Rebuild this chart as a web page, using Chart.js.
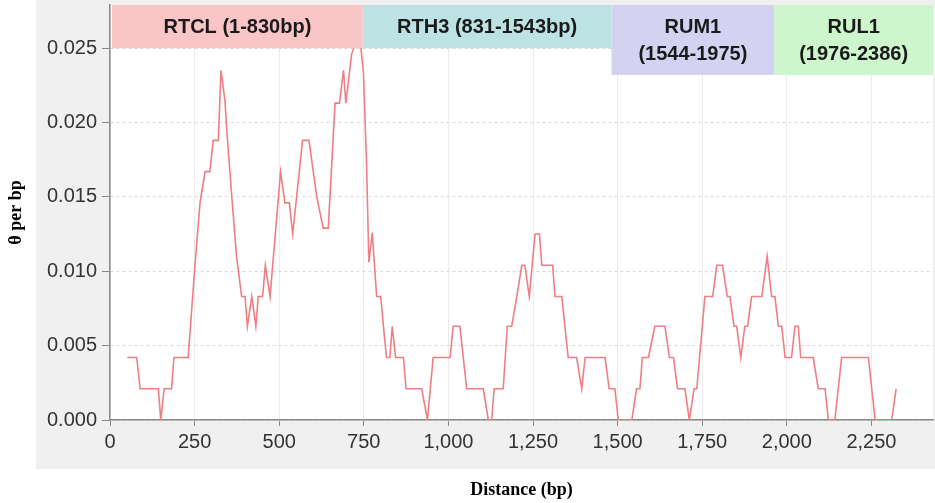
<!DOCTYPE html>
<html>
<head>
<meta charset="utf-8">
<script src="https://cdn.jsdelivr.net/npm/chart.js@4"></script>
<style>
  body { margin: 0; background: #fff; }
</style>
</head>
<body>
<canvas id="myChart" width="935" height="503"></canvas>
<script>
// sliding window position (bp) and nucleotide diversity
const positions = [51, 79, 89, 143, 150, 160, 182, 189, 231, 251, 266, 281, 295, 305, 320, 328, 340, 345, 360, 374,
  389, 399, 406, 419, 431, 438, 451, 459, 473, 504, 517, 530, 540, 569, 588, 611, 630, 645, 665, 678,
  690, 697, 714, 737, 749, 758, 765, 775, 788, 800, 808, 817, 827, 834, 844, 867, 875, 921, 938, 955,
  1005, 1014, 1034, 1054, 1103, 1118, 1128, 1135, 1162, 1174, 1187, 1202, 1217, 1226, 1239, 1256, 1269, 1276, 1308, 1315,
  1335, 1354, 1379, 1394, 1404, 1463, 1475, 1492, 1502, 1542, 1556, 1566, 1573, 1591, 1610, 1640, 1653, 1665, 1677, 1699,
  1712, 1726, 1734, 1758, 1781, 1793, 1810, 1824, 1832, 1844, 1852, 1864, 1876, 1884, 1896, 1926, 1942, 1955, 1965, 1975,
  1985, 1995, 2014, 2024, 2034, 2041, 2078, 2093, 2113, 2123, 2142, 2162, 2241, 2261, 2310, 2323];
const theta = [0.0042, 0.0042, 0.0021, 0.0021, 0, 0.0021, 0.0021, 0.0042, 0.0042, 0.0104, 0.0146, 0.0167, 0.0167, 0.0188, 0.0188, 0.0235, 0.0214, 0.0195, 0.0150, 0.0110,
  0.0083, 0.0083, 0.0063, 0.0083, 0.0063, 0.0083, 0.0083, 0.0104, 0.0083, 0.0167, 0.0146, 0.0146, 0.0125, 0.0188, 0.0188, 0.0150, 0.0129, 0.0129, 0.0213, 0.0213,
  0.0235, 0.0213, 0.0246, 0.0260, 0.0233, 0.0173, 0.0106, 0.0126, 0.0083, 0.0083, 0.0063, 0.0042, 0.0042, 0.0063, 0.0042, 0.0042, 0.0021, 0.0021, 0, 0.0042,
  0.0042, 0.0063, 0.0063, 0.0021, 0.0021, 0, 0, 0.0021, 0.0021, 0.0063, 0.0063, 0.0083, 0.0104, 0.0104, 0.0083, 0.0125, 0.0125, 0.0104, 0.0104, 0.0083,
  0.0083, 0.0042, 0.0042, 0.0021, 0.0042, 0.0042, 0.0021, 0.0021, 0, 0, 0.0021, 0.0021, 0.0042, 0.0042, 0.0063, 0.0063, 0.0042, 0.0042, 0.0021, 0.0021,
  0, 0.0021, 0.0021, 0.0083, 0.0083, 0.0104, 0.0104, 0.0083, 0.0083, 0.0063, 0.0063, 0.0042, 0.0063, 0.0063, 0.0083, 0.0083, 0.0110, 0.0083, 0.0083, 0.0063,
  0.0063, 0.0042, 0.0042, 0.0063, 0.0063, 0.0042, 0.0042, 0.0021, 0.0021, 0, 0, 0.0042, 0.0042, 0, 0, 0.0021];

// gene regions shown as boxes along the top (in axis units)
const regionLabels = [["RTCL (1-830bp)"], ["RTH3 (831-1543bp)"], ["RUM1", "(1544-1975)"], ["RUL1", "(1976-2386)"]];
const regionStart = [0, 747, 1482, 1963];
const regionEnd = [747, 1482, 1963, 2432];
const regionBottom = [0.025, 0.025, 0.0232, 0.0232];
const regionColors = ["#f9c5c6", "#bde2e3", "#d3d3f1", "#cdf6cd"];

const xMax = 2432;
const yMax = 0.0279;

const backdrop = {
  id: "backdrop",
  beforeDraw(chart) {
    const ctx = chart.ctx, a = chart.chartArea;
    ctx.save();
    ctx.fillStyle = "#ffffff";
    ctx.fillRect(0, 0, chart.width, chart.height);
    ctx.fillStyle = "#f0f0f0";
    ctx.fillRect(a.left - 74, 0, chart.width - a.left + 74, a.bottom + 49);
    ctx.fillStyle = "#ffffff";
    ctx.fillRect(a.left, a.top, a.right - a.left, a.bottom - a.top);
    ctx.restore();
  }
};

const regions = {
  id: "regions",
  afterDatasetsDraw(chart) {
    const ctx = chart.ctx, a = chart.chartArea;
    const xs = chart.scales.x, ys = chart.scales.y;
    ctx.save();
    for (let i = 0; i < regionLabels.length; i++) {
      const x1 = Math.max(xs.getPixelForValue(regionStart[i]), a.left + 2);
      const x2 = xs.getPixelForValue(regionEnd[i]);
      const y2 = ys.getPixelForValue(regionBottom[i]);
      ctx.fillStyle = regionColors[i];
      ctx.fillRect(x1, a.top, x2 - x1, y2 - a.top);
      ctx.fillStyle = "#1a1a1a";
      ctx.font = "bold 20px 'Liberation Sans', Arial, sans-serif";
      ctx.textAlign = "center";
      ctx.textBaseline = "middle";
      const lines = regionLabels[i];
      const cy = (a.top + y2) / 2 + 1;
      lines.forEach((t, j) => {
        ctx.fillText(t, (x1 + x2) / 2, cy + (j - (lines.length - 1) / 2) * 27);
      });
    }
    ctx.restore();
  }
};

function graficar(namechart) {
  const pts = positions.map((p, i) => ({ x: p, y: theta[i] }));
  const tickFont = { family: "'Liberation Sans', Arial, sans-serif", size: 20 };
  const titleFont = { family: "'Liberation Serif', 'Times New Roman', serif", size: 18, weight: "bold" };
  return new Chart(document.getElementById(namechart), {
    type: "line",
    data: {
      datasets: [{
        data: pts,
        borderColor: "#ef7e85",
        borderWidth: 1.6,
        pointRadius: 0,
        tension: 0,
        fill: false
      }]
    },
    options: {
      responsive: false,
      animation: false,
      layout: { padding: { top: 5, right: 2, left: 0, bottom: 0 } },
      plugins: { legend: { display: false }, tooltip: { enabled: false } },
      scales: {
        x: {
          type: "linear",
          min: 0,
          max: xMax,
          afterFit: s => { s.height = 83; s.paddingLeft = 0; s.paddingRight = 0; },
          ticks: { stepSize: 250, includeBounds: false, autoSkip: false, maxRotation: 0, padding: 4, color: "#333", font: tickFont },
          grid: { color: "#ececec", tickColor: "#888", tickLength: 6 },
          border: { color: "#8a8a8a", width: 1.5 },
          title: { display: true, text: "Distance (bp)", color: "#000", font: titleFont, padding: 2 }
        },
        y: {
          min: 0,
          max: yMax,
          afterFit: s => { s.width = 110; s.paddingTop = 0; s.paddingBottom = 0; },
          ticks: { stepSize: 0.005, includeBounds: false, padding: 5, color: "#333", font: tickFont,
            callback: v => v.toFixed(3) },
          grid: { color: "#d9d9d9", tickColor: "#888", tickLength: 8 },
          border: { color: "#8a8a8a", width: 1.5, dash: [3, 3] },
          title: { display: true, text: "θ per bp", color: "#000", font: titleFont, padding: 6 }
        }
      }
    },
    plugins: [backdrop, regions]
  });
}

let myChart = graficar("myChart");
</script>
</body>
</html>
